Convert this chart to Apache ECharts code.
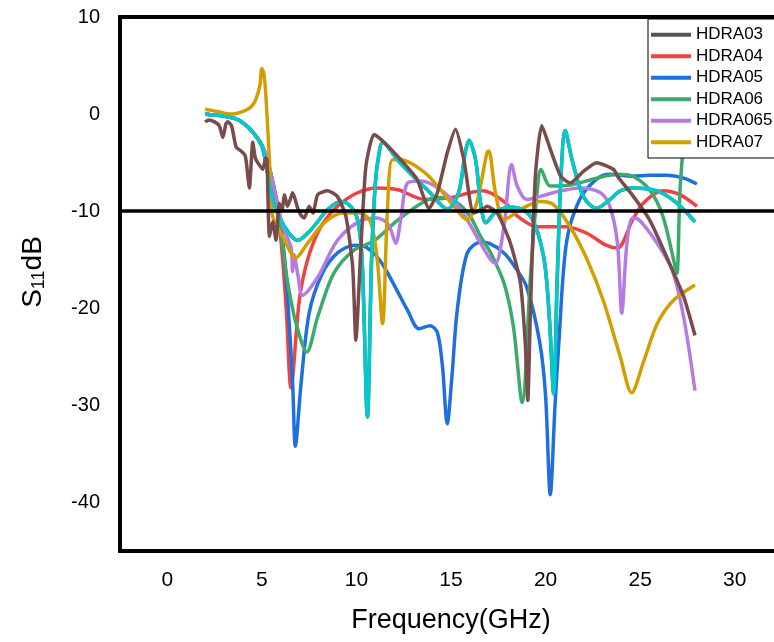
<!DOCTYPE html>
<html>
<head>
<meta charset="utf-8">
<script src="https://cdn.jsdelivr.net/npm/echarts@6/dist/echarts.min.js"></script>
<style>html,body{margin:0;padding:0;background:#fff}#c{width:774px;height:642px}</style>
</head>
<body>
<div id="c"></div>
<script>
// Legend names
const legendNames = ['HDRA03', 'HDRA04', 'HDRA05', 'HDRA06', 'HDRA065', 'HDRA07'];
const xTicks = [0, 5, 10, 15, 20, 25, 30];
const yTicks = [10, 0, -10, -20, -30, -40];
const refLevel = -10;

// [frequency GHz, S11 dB]
const hdra05 = [[2,0],[2.5,-0.1],[3,-0.2],[3.5,-0.4],[4,-0.9],[4.5,-1.8],[5,-3.2],[5.3,-4.8],[5.6,-7.2],[5.9,-10],[6.1,-12.8],[6.37,-19.2],[6.63,-27.8],[6.77,-34.2],[7.07,-27.8],[7.5,-20.5],[8.2,-16.4],[9.0,-14.3],[9.9,-13.5],[10.4,-13.6],[11.0,-14.5],[11.45,-15.7],[12.1,-18],[12.7,-20.2],[13.3,-22.1],[13.9,-21.8],[14.28,-22.5],[14.55,-26],[14.8,-31.9],[15.05,-27],[15.33,-20.2],[15.86,-14.3],[16.56,-13.2],[17.0,-13.3],[17.8,-14.3],[18.4,-15.8],[19.0,-17.8],[19.7,-23.6],[20.0,-29],[20.25,-39.2],[20.5,-30],[20.7,-23.6],[21.1,-13.3],[21.8,-8.8],[22.7,-6.7],[23.4,-6.2],[24.6,-6.4],[25.5,-6.3],[26.4,-6.3],[27.3,-6.6],[28,-7.2]];
const hdra04 = [[2,0],[2.5,-0.1],[3,-0.2],[3.5,-0.4],[4,-0.9],[4.5,-1.8],[5,-3.2],[5.3,-4.9],[5.6,-7.5],[5.9,-11],[6.1,-15],[6.3,-20.5],[6.54,-28.2],[6.98,-19.2],[7.42,-15.0],[8.12,-11.6],[9.0,-9.5],[10.06,-8.1],[11.1,-7.6],[12.2,-7.8],[13.6,-8.8],[15.0,-8.6],[16.0,-8.1],[16.7,-7.9],[17.8,-9.0],[18.5,-10.5],[19.55,-11.6],[21.1,-11.6],[22.2,-12.3],[23.2,-13.5],[23.8,-13.8],[24.6,-10.9],[25.2,-9.1],[26.2,-7.9],[27.1,-8.3],[28,-9.5]];
const hdra06 = [[2,0],[2.5,-0.1],[3,-0.2],[3.5,-0.4],[4,-0.9],[4.5,-1.8],[5,-3.2],[5.3,-4.8],[5.6,-7.2],[5.9,-10.5],[6.1,-13.5],[6.37,-17.4],[6.8,-21.5],[7.38,-24.5],[7.95,-20.9],[8.8,-16.4],[9.87,-14.0],[10.9,-13.1],[12.2,-10.9],[13.6,-9.0],[14.45,-8.6],[15.3,-9.1],[16.0,-10.5],[16.56,-12.6],[17.1,-14.3],[17.8,-17.4],[18.3,-21.9],[18.76,-29.7],[19.2,-16.8],[19.55,-8.1],[19.76,-5.7],[20.25,-7.4],[21.3,-7.3],[22.7,-6.6],[23.8,-6.2],[24.6,-6.4],[25.5,-7.8],[26.2,-10.5],[26.85,-15.7],[26.95,-16.4],[27.1,-8.1],[27.25,-4.0],[27.4,-1]];
const hdra065 = [[2,0],[2.5,-0.1],[3,-0.2],[3.5,-0.4],[4,-0.9],[4.5,-1.8],[5,-3.2],[5.3,-4.8],[5.6,-7.2],[5.9,-10],[6.2,-12.0],[6.55,-13.8],[6.62,-16.2],[6.7,-14.5],[6.9,-16.5],[7.15,-18.65],[7.95,-16.8],[9.0,-13.0],[10.2,-11.0],[11.1,-10.7],[11.7,-11.4],[12.08,-13.3],[12.34,-10.9],[12.7,-7.1],[13.4,-6.9],[14.45,-7.8],[15.5,-9.8],[16.56,-13.3],[17.1,-15.0],[17.35,-15.4],[17.8,-11.6],[18.2,-5.2],[18.5,-7.4],[19.0,-8.8],[20.4,-8.1],[21.8,-7.6],[22.9,-8.1],[23.4,-9.5],[23.8,-13.3],[24.03,-20.5],[24.3,-13.3],[24.6,-10.7],[24.95,-10.9],[25.9,-13.3],[26.7,-16.1],[27.3,-20.9],[27.9,-28.5]];
const hdra07 = [[2,0.5],[2.7,0.25],[3.4,0.0],[3.9,0.2],[4.25,0.5],[4.5,0.9],[4.7,1.6],[4.9,3.0],[5.0,4.7],[5.1,4.2],[5.2,2.3],[5.4,-4.7],[5.55,-10.4],[6.1,-12.6],[6.8,-14.8],[7.42,-13.3],[8.3,-11.2],[9.3,-10.2],[10.2,-10.2],[10.76,-11.2],[11.1,-15.0],[11.38,-21.6],[11.64,-9.8],[11.9,-4.7],[12.34,-4.7],[13.6,-6.0],[14.45,-7.8],[15.15,-9.5],[15.86,-10.9],[16.3,-9.5],[16.56,-7.4],[16.9,-4.0],[17.0,-3.8],[17.35,-8.1],[17.8,-10.9],[18.7,-9.8],[19.7,-9.0],[20.4,-9.3],[21.3,-11.6],[22.2,-15.0],[23.05,-19.2],[23.95,-25.0],[24.55,-28.7],[25.2,-25.4],[25.9,-21.6],[26.75,-19.2],[27.9,-17.6]];
const cyanSeries = [[2,0],[2.5,-0.1],[3,-0.2],[3.5,-0.4],[4,-0.9],[4.5,-1.8],[5,-3.3],[5.3,-6],[5.6,-9],[6.2,-11.6],[6.9,-13.0],[7.6,-11.9],[8.5,-9.8],[9.2,-9.0],[9.7,-9.5],[10.06,-10.9],[10.3,-15],[10.58,-31.2],[10.8,-15],[11.0,-7.1],[11.2,-4.0],[11.38,-2.9],[12.17,-4.7],[13.0,-6.4],[13.9,-8.1],[14.8,-9.8],[15.4,-8.1],[15.75,-4],[15.95,-2.7],[16.3,-4.7],[16.56,-9.1],[16.85,-11.2],[17.4,-10.0],[18.3,-9.6],[19.2,-10.5],[19.9,-14.7],[20.2,-21],[20.43,-28.8],[20.6,-18],[20.8,-7],[21.04,-1.7],[21.4,-4.7],[22.0,-8.5],[22.7,-9.7],[23.4,-8.8],[23.95,-7.9],[24.6,-7.6],[25.9,-7.9],[26.9,-9.1],[27.9,-11.1]];
const hdra03 = [[2,0],[2.5,-0.1],[3,-0.2],[3.5,-0.4],[4,-0.9],[4.5,-1.8],[5,-3.3],[5.3,-6],[5.6,-9],[6.2,-11.6],[6.9,-13.0],[7.6,-11.9],[8.5,-9.8],[9.2,-9.0],[9.7,-9.5],[10.06,-10.9],[10.3,-15],[10.58,-31.2],[10.8,-15],[11.0,-7.1],[11.2,-4.0],[11.38,-2.9],[12.17,-4.7],[13.0,-6.4],[13.9,-8.1],[14.8,-9.8],[15.4,-8.1],[15.75,-4],[15.95,-2.7],[16.3,-4.7],[16.56,-9.1],[16.85,-11.2],[17.4,-10.0],[18.3,-9.6],[19.2,-10.5],[19.9,-14.7],[20.2,-21],[20.43,-28.8],[20.6,-18],[20.8,-7],[21.04,-1.7],[21.4,-4.7],[22.0,-8.5],[22.7,-9.7],[23.4,-8.8],[23.95,-7.9],[24.6,-7.6],[25.9,-7.9],[26.9,-9.1],[27.9,-11.1]];
const brownSeries = [[2.0,-0.8],[2.2,-0.6],[2.5,-0.8],[2.75,-1.2],[2.94,-2.4],[3.1,-1.0],[3.2,-0.8],[3.4,-1.2],[3.64,-3.4],[3.9,-3.8],[4.1,-4.2],[4.17,-4.8],[4.34,-7.6],[4.52,-2.9],[4.65,-4.5],[4.78,-5.0],[5.05,-5.7],[5.2,-4.5],[5.27,-4.7],[5.4,-12.6],[5.57,-11.1],[5.75,-13.0],[5.92,-9.2],[6.05,-10],[6.2,-8.3],[6.35,-9.5],[6.5,-8.8],[6.63,-8.1],[6.9,-9.7],[7.1,-10.5],[7.24,-10.7],[7.5,-9.5],[7.7,-10.2],[7.95,-8.3],[8.48,-7.9],[9.0,-8.5],[9.44,-10.5],[9.8,-15.7],[9.97,-23.3],[10.23,-14.0],[10.5,-5.4],[10.93,-2.1],[11.46,-2.9],[12.34,-4.7],[13.2,-6.7],[13.84,-9.7],[14.28,-8.1],[14.8,-4.0],[15.24,-1.55],[15.68,-4.7],[16.2,-10.2],[16.73,-9.7],[16.9,-9.5],[17.45,-10.2],[18.14,-13.3],[18.67,-17.4],[18.93,-23.7],[19.06,-29.5],[19.2,-20.2],[19.46,-6.4],[19.8,-1.2],[20.25,-3.6],[20.8,-6.4],[21.3,-7.1],[22.0,-5.9],[22.7,-5.0],[23.6,-5.7],[23.8,-6.4],[24.65,-8.5],[25.5,-10.9],[26.4,-14.7],[27.3,-18.8],[27.9,-22.8]];

const FONT = 'Liberation Sans, Arial, sans-serif';
const chart = echarts.init(document.getElementById('c'), null, {renderer: 'canvas'});

function line(name, data, color, smooth, z) {
  return {
    name: name, type: 'line', data: data, showSymbol: false, symbol: 'none',
    smooth: smooth, lineStyle: {color: color, width: 3.5}, itemStyle: {color: color},
    z: z, animation: false
  };
}

chart.setOption({
  animation: false,
  backgroundColor: '#fff',
  textStyle: {fontFamily: FONT},
  grid: {left: 120, top: 17, width: 662, height: 534, show: true, borderColor: '#000', borderWidth: 4,
    backgroundColor: 'transparent', containLabel: false, outerBoundsMode: 'none'},
  legend: {
    data: legendNames, orient: 'vertical', left: 648, top: 19,
    padding: [5, 40, 5, 3], itemGap: 0, itemWidth: 40, itemHeight: 4, icon: 'rect',
    itemTextGap: 5, backgroundColor: '#fff', borderColor: '#000', borderWidth: 1, borderRadius: 0,
    textStyle: {fontSize: 17, color: '#000', fontFamily: FONT, lineHeight: 21.5},
    z: 10
  },
  xAxis: {
    type: 'value', min: -2.5, max: 32.5, interval: 2.5,
    name: 'Frequency(GHz)', nameLocation: 'middle', nameGap: 56,
    nameTextStyle: {fontSize: 27, color: '#000', fontFamily: FONT},
    axisLine: {show: false}, axisTick: {show: false}, splitLine: {show: false},
    axisLabel: {fontSize: 21, color: '#000', margin: 19, fontFamily: FONT,
      formatter: function (v) { return xTicks.indexOf(v) >= 0 ? String(v) : ''; }}
  },
  yAxis: {
    type: 'value', min: -45, max: 10, interval: 5,
    name: '{s|S}{sub|11}{s|dB}', nameLocation: 'middle', nameGap: 72, nameRotate: 90,
    nameTextStyle: {color: '#000', fontFamily: FONT, padding: [0, 0, 0, 24], rich: {
      s: {fontSize: 28, color: '#000', fontFamily: FONT},
      sub: {fontSize: 18, color: '#000', fontFamily: FONT, verticalAlign: 'bottom', padding: [12, 0, 0, 0]}
    }},
    axisLine: {show: false}, axisTick: {show: false}, splitLine: {show: false},
    axisLabel: {fontSize: 20, color: '#000', margin: 20, fontFamily: FONT,
      formatter: function (v) { return yTicks.indexOf(v) >= 0 ? String(v) : ''; }}
  },
  series: [
    line('HDRA03', hdra03, '#555555', 0.3, 2),
    line('HDRA04', hdra04, '#F04242', 0.3, 3),
    line('HDRA05', hdra05, '#1F6FDC', 0.3, 3),
    line('HDRA06', hdra06, '#3BAA6A', 0.3, 3),
    line('HDRA065', hdra065, '#B57BE3', 0.3, 3),
    line('HDRA07', hdra07, '#D39E00', 0.3, 3),
    line('C7', cyanSeries, '#00CACA', 0.3, 3),
    line('C8', brownSeries, '#7A4B4B', 0.2, 3),
    {
      name: 'ref', type: 'line', data: [], z: 5, silent: true,
      markLine: {silent: true, symbol: ['none', 'none'], label: {show: false},
        lineStyle: {color: '#000', width: 3.5, type: 'solid'}, animation: false,
        data: [{yAxis: refLevel}]}
    }
  ]
});
</script>
</body>
</html>
